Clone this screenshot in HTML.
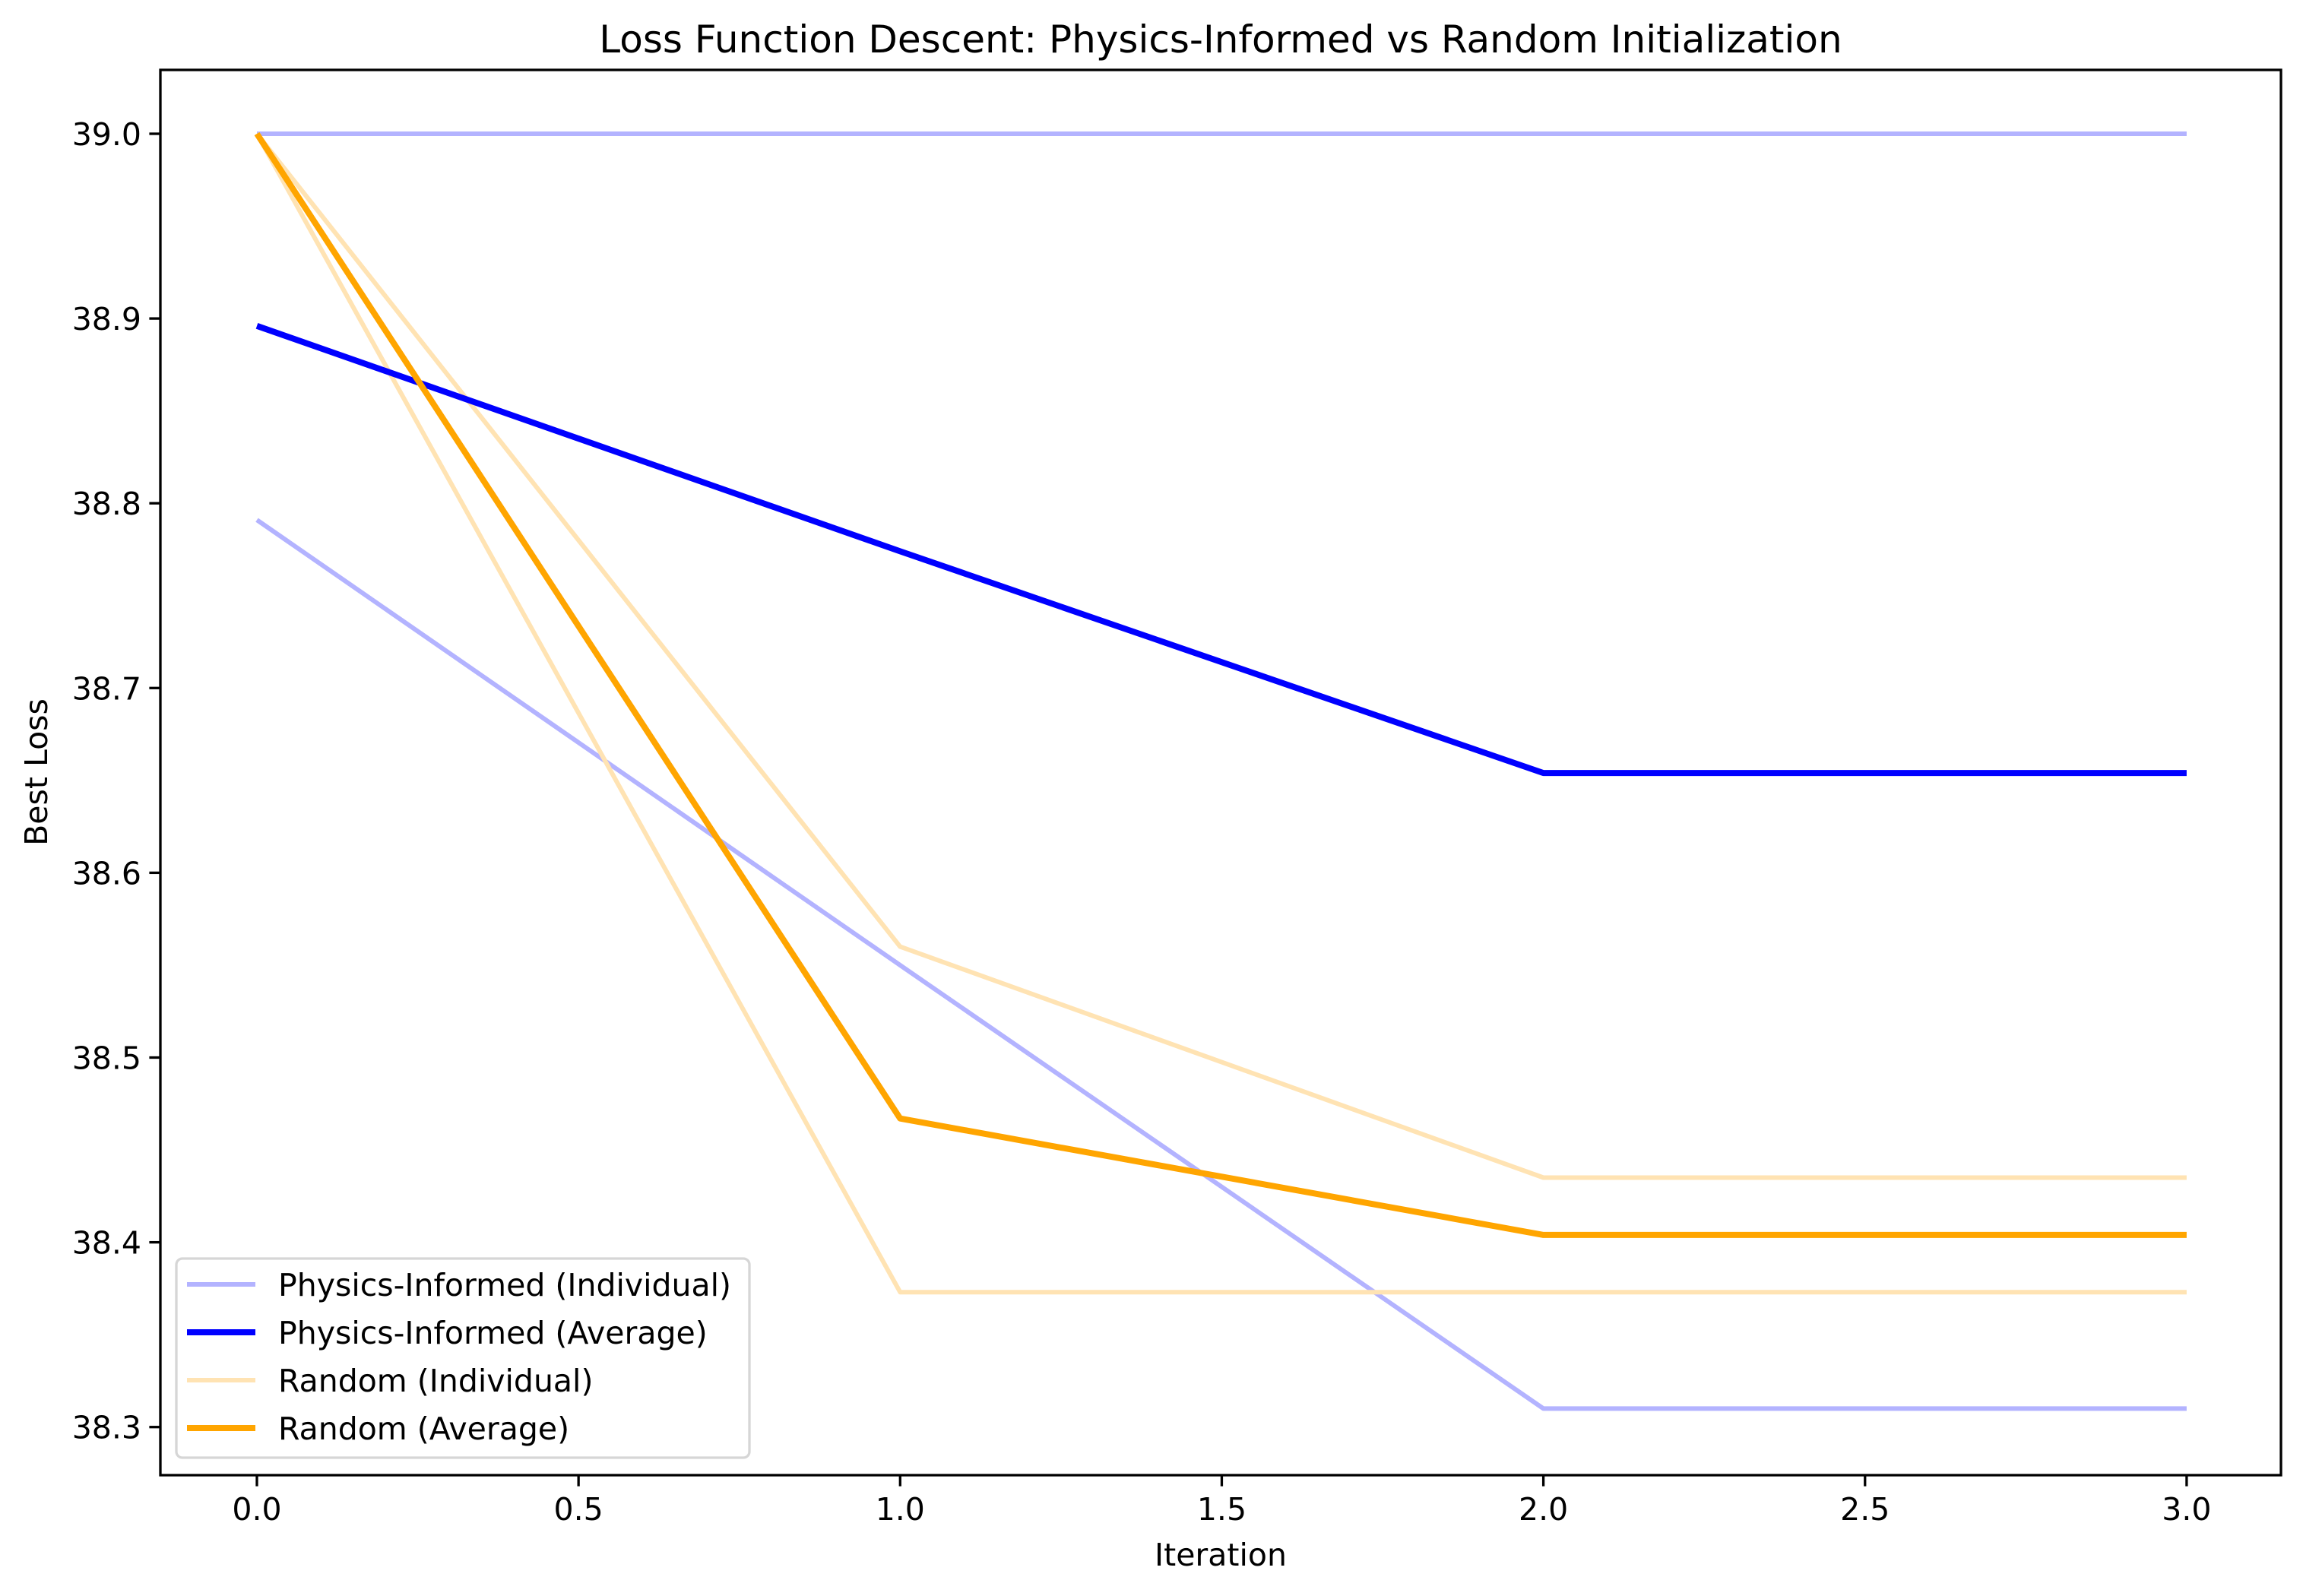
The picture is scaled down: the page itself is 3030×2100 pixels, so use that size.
<!DOCTYPE html>
<html><head><meta charset="utf-8"><style>
html,body{margin:0;padding:0;background:#fff;}
svg{display:block;font-family:"DejaVu Sans","Liberation Sans",sans-serif;}
</style></head><body>
<svg id="chart" width="3030" height="2100" viewBox="0 0 3030 2100" xmlns="http://www.w3.org/2000/svg">
<rect width="3030" height="2100" fill="#fff"/>
<text x="1606" y="69" font-size="50" text-anchor="middle">Loss Function Descent: Physics-Informed vs Random Initialization</text>
<g id="plot"></g>
<g id="axes"></g>
<text x="1606" y="2060" font-size="41" text-anchor="middle">Iteration</text>
<text x="0" y="0" font-size="41" text-anchor="middle" transform="translate(62,1016) rotate(-90)">Best Loss</text>
<g id="legend"></g>
</svg>
<script>
const iterations = [0, 1, 2, 3];
const piIndividual1 = [39.0, 39.0, 39.0, 39.0];
const piIndividual2 = [38.791, 38.55, 38.31, 38.31];
const piAverage = [38.896, 38.774, 38.654, 38.654];
const rndIndividual1 = [39.0, 38.56, 38.435, 38.435];
const rndIndividual2 = [39.0, 38.373, 38.373, 38.373];
const rndAverage = [39.0, 38.467, 38.404, 38.404];
const xTicks = [0, 0.5, 1, 1.5, 2, 2.5, 3];
const xTickLabels = ["0.0","0.5","1.0","1.5","2.0","2.5","3.0"];
const yTicks = [38.3, 38.4, 38.5, 38.6, 38.7, 38.8, 38.9, 39.0];
const yTickLabels = ["38.3","38.4","38.5","38.6","38.7","38.8","38.9","39.0"];

const NS = "http://www.w3.org/2000/svg";
const L = 211, R = 3001, T = 92, B = 1941;
function xs(v){ return 338 + v * 846.3; }
function ys(v){ return 176 + (39.0 - v) * 2431; }
function mk(tag, attrs, parent){ const e = document.createElementNS(NS, tag); for (const k in attrs) e.setAttribute(k, attrs[k]); parent.appendChild(e); return e; }

const plot = document.getElementById('plot');
const series = [
  {name:'physics-informed-individual-1', data:piIndividual1, color:'#b3b3ff', w:6},
  {name:'physics-informed-individual-2', data:piIndividual2, color:'#b3b3ff', w:6},
  {name:'random-individual-1', data:rndIndividual1, color:'#ffe3b3', w:6},
  {name:'random-individual-2', data:rndIndividual2, color:'#ffe3b3', w:6},
  {name:'physics-informed-average', data:piAverage, color:'#0000ff', w:8},
  {name:'random-average', data:rndAverage, color:'#ffa500', w:8}
];
series.forEach(s => {
  const pts = s.data.map((v,i) => xs(iterations[i]).toFixed(1) + ',' + ys(v).toFixed(1)).join(' ');
  const pl = mk('polyline', {points:pts, fill:'none', stroke:s.color, 'stroke-width':s.w, 'stroke-linejoin':'round'}, plot);
  
  
});

const axes = document.getElementById('axes');
const frame = mk('rect', {x:L, y:T, width:R-L, height:B-T, fill:'none', stroke:'#000', 'stroke-width':3.3}, axes);


xTicks.forEach((t,i) => {
  const x = xs(t);
  const tk = mk('line', {x1:x, x2:x, y1:B, y2:B+14.6, stroke:'#000', 'stroke-width':3.3}, axes);
  
  
  const lb = mk('text', {x:x, y:B+59, 'font-size':41, 'text-anchor':'middle'}, axes);
  lb.textContent = xTickLabels[i];
  
  
});
yTicks.forEach((t,i) => {
  const y = ys(t);
  const tk = mk('line', {x1:L-14.6, x2:L, y1:y, y2:y, stroke:'#000', 'stroke-width':3.3}, axes);
  
  
  const lb = mk('text', {x:L-25, y:y+15, 'font-size':41, 'text-anchor':'end'}, axes);
  lb.textContent = yTickLabels[i];
  
  
});

const legend = document.getElementById('legend');
const box = mk('rect', {x:232, y:1656, width:754, height:262, rx:8, fill:'#fff', 'fill-opacity':0.8, stroke:'#d6d6d6', 'stroke-width':3.3}, legend);


const entries = [
  {label:'Physics-Informed (Individual)', color:'#b3b3ff', w:6},
  {label:'Physics-Informed (Average)', color:'#0000ff', w:8},
  {label:'Random (Individual)', color:'#ffe3b3', w:6},
  {label:'Random (Average)', color:'#ffa500', w:8}
];
entries.forEach((e,i) => {
  const y = 1690 + i * 63;
  const ln = mk('line', {x1:246, x2:336, y1:y, y2:y, stroke:e.color, 'stroke-width':e.w}, legend);
  
  
  const tx = mk('text', {x:366, y:y+15, 'font-size':41}, legend);
  tx.textContent = e.label;
  
  
});
</script>
</body></html>
